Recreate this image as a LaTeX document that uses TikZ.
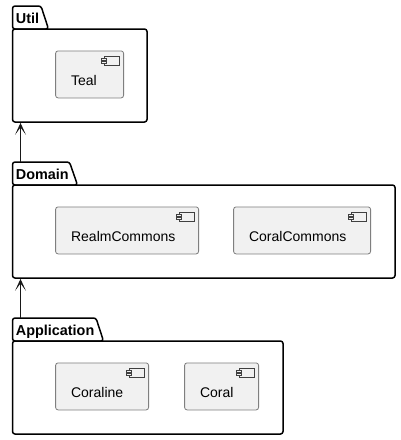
\documentclass[tikz,border=0pt]{standalone}
\usepackage{fontspec}
\setmainfont{Liberation Sans}
\usetikzlibrary{arrows.meta}
\definecolor{compfill}{HTML}{F1F1F1}
\definecolor{compline}{HTML}{7F7F7F}
\definecolor{linkc}{HTML}{181818}
\tikzset{
  x=1pt,y=-1pt,
  frame/.style={draw=black,line width=1.5pt,rounded corners=2.5pt,fill=white},
  framebox/.style={rectangle,draw=none,inner sep=0pt,anchor=north west},
  tablabel/.style={anchor=base west,inner sep=0pt,font=\fontsize{14.4}{14}\selectfont\bfseries},
  comp/.style={rectangle,draw=compline,fill=compfill,line width=0.8pt,rounded corners=2.5pt,
    anchor=north west,inner xsep=1pt,inner ysep=0pt,align=left,text height=34.5pt,text depth=12.5pt,
    font=\fontsize{14}{14}\selectfont},
  ico/.style={draw=black!75,line width=0.5pt,fill=compfill},
  link/.style={draw=linkc,line width=1pt,-{Stealth[length=12pt,width=11pt,inset=7.5pt]}},
}
\newcommand{\compicon}[1]{%
  \draw[ico] ([xshift=-20pt,yshift=-5.5pt]#1.north east) rectangle ([xshift=-4.5pt,yshift=-14.5pt]#1.north east);
  \draw[ico] ([xshift=-22.5pt,yshift=-7.5pt]#1.north east) rectangle ([xshift=-17.5pt,yshift=-9.5pt]#1.north east);
  \draw[ico] ([xshift=-22.5pt,yshift=-10.5pt]#1.north east) rectangle ([xshift=-17.5pt,yshift=-12.5pt]#1.north east);
}
\begin{document}
\begin{tikzpicture}
\useasboundingbox (0,0) rectangle (401,440);
\fill[white] (0,0) rectangle (401,440);
% Util
\draw[frame] (12.5,29) -- (12.5,6) -- (41,6) -- (48.5,29) -- cycle;
\draw[frame] (12.5,29) rectangle (147,122);
\node[framebox,minimum width=134.5pt,minimum height=93pt] (util) at (12.5,29) {};
\node[tablabel] (utillabel) at (15.7,23) {Util};
% Domain
\draw[frame] (12.5,185) -- (12.5,162) -- (69.5,162) -- (77.5,185) -- cycle;
\draw[frame] (12.5,185) rectangle (395,278);
\node[framebox,minimum width=382.5pt,minimum height=93pt] (domain) at (12.5,185) {};
\node[tablabel] (domainlabel) at (15.7,179) {Domain};
\node[framebox,minimum width=57pt,minimum height=23pt] (domaintab) at (12.5,162) {};
% Application
\draw[frame] (12.5,341) -- (12.5,318) -- (96,318) -- (103.5,341) -- cycle;
\draw[frame] (12.5,341) rectangle (283,434);
\node[framebox,minimum width=270.5pt,minimum height=93pt] (application) at (12.5,341) {};
\node[tablabel] (applicationlabel) at (15.7,335) {Application};
\node[framebox,minimum width=83pt,minimum height=23pt] (applicationtab) at (12.5,318) {};
% Components
\node[comp,text width=66pt] (teal) at (55.2,50.5) {\hspace*{14.5pt}Teal};
\node[comp,text width=141pt] (realm) at (55.2,206.5) {\hspace*{14.5pt}RealmCommons};
\node[comp,text width=135pt] (coralcommons) at (233.2,206.5) {\hspace*{14.5pt}CoralCommons};
\node[comp,text width=91pt] (coraline) at (55.2,362.5) {\hspace*{14.5pt}Coraline};
\node[comp,text width=72pt] (coral) at (184.2,362.5) {\hspace*{14.5pt}Coral};
\compicon{teal}\compicon{realm}\compicon{coralcommons}\compicon{coraline}\compicon{coral}
% Connectors
\draw[link] ([xshift=8pt]domaintab.north west) -- ([xshift=8pt,yshift=-0.5pt]util.south west);
\draw[link] ([xshift=8pt]applicationtab.north west) -- ([xshift=8pt,yshift=-0.5pt]domain.south west);
\end{tikzpicture}
\end{document}
